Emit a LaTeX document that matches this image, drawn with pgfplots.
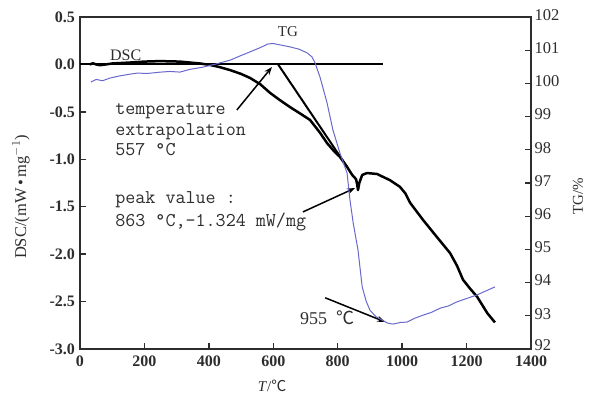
\documentclass[border=0pt]{standalone}
\usepackage{fontspec}
\setmainfont{Liberation Serif}
\newfontfamily\cjk{Noto Sans CJK SC}
\usepackage{pgfplots}
\pgfplotsset{compat=1.18}
\usetikzlibrary{arrows.meta}
\definecolor{tgblue}{RGB}{105,105,205}
\definecolor{axgray}{RGB}{45,45,45}
\begin{document}
\begin{tikzpicture}
\useasboundingbox (-80bp,-46bp) rectangle (512bp,349bp);
\pgfplotsset{
  common/.style={
    at={(0,0)}, anchor=south west,
    scale only axis, width=451bp, height=332bp,
    xmin=0, xmax=1400,
    tick align=inside, major tick length=6bp,
    axis line style={axgray, line width=1.5bp},
    every tick/.style={axgray, line width=1.3bp},
    tick label style={font=\fontsize{16bp}{18bp}\selectfont, text=axgray},
    label style={font=\fontsize{15bp}{17bp}\selectfont, text=axgray},
    /pgf/number format/assume math mode=true,
    clip=false,
  }
}
\begin{axis}[common,
  ymin=-3, ymax=0.5,
  xtick={0,200,400,600,800,1000,1200,1400},
  xticklabels={0,200,400,600,800,1000,1200,1400},
  ytick={-3,-2.5,-2,-1.5,-1,-0.5,0,0.5},
  yticklabels={-3.0,-2.5,-2.0,-1.5,-1.0,-0.5,0.0,0.5},
  xtick pos=bottom, ytick pos=left,
  xticklabel style={font=\bfseries\fontsize{16bp}{18bp}\selectfont, yshift=-3.5bp},
  yticklabel style={font=\bfseries\fontsize{16bp}{18bp}\selectfont, xshift=-1.5bp},
  xlabel={\textit{T}/{\cjk ℃}},
  xlabel style={at={(axis description cs:0.426,-0.111)}, anchor=center},
  ylabel={DSC/(mW\,•\,mg$^{-1}$)},
  ylabel style={at={(axis description cs:-0.131,0.458)}, anchor=center, rotate=0, font=\fontsize{16.5bp}{18bp}\selectfont},
]
% DSC curve
\addplot[black, line width=2.5bp, line join=round] coordinates {
(30,0.0)(40,0.012)(50,0.0)(62,-0.008)(80,0.0)(100,0.01)(155,0.02)(200,0.03)
(248,0.035)(310,0.03)(373,0.01)(404,-0.006)(430,-0.025)(466,-0.06)(500,-0.1)
(528,-0.143)(560,-0.21)(590,-0.30)(620,-0.375)(652,-0.45)(680,-0.51)(714,-0.585)
(745,-0.72)(767,-0.83)(790,-0.92)(807,-0.975)(829,-1.08)(845,-1.165)(857,-1.21)
(860,-1.26)(863,-1.324)(867,-1.25)(876,-1.165)(891,-1.145)(922,-1.155)(962,-1.22)
(993,-1.29)(1010,-1.36)(1025,-1.46)(1065,-1.64)(1108,-1.82)(1149,-1.99)(1170,-2.12)
(1189,-2.27)(1210,-2.36)(1233,-2.45)(1264,-2.62)(1288,-2.72)
};
% baseline and tangent
\addplot[black, line width=2bp] coordinates {(0,0)(941,0)};
\addplot[black, line width=2bp] coordinates {(615,0)(829,-1.08)};
% annotations
\draw[-{Stealth[length=8bp,width=6bp]}, line width=1.5bp] (axis cs:487,-0.48) -- (axis cs:596,-0.027);
\draw[-{Stealth[length=8bp,width=6bp]}, line width=1.5bp] (axis cs:692,-1.555) -- (axis cs:854,-1.303);
\draw[-{Stealth[length=8bp,width=6bp]}, line width=1.5bp] (axis cs:761,-2.46) -- (axis cs:947,-2.714);
\node[anchor=base west, inner sep=0, font=\fontsize{16bp}{18bp}\selectfont, text=axgray] at (axis cs:93,0.046) {DSC};
\node[anchor=base west, inner sep=0, font=\fontsize{15bp}{17bp}\selectfont, text=axgray] at (axis cs:614,0.29) {TG};
\begin{scope}[every node/.style={anchor=base west, inner sep=0, font=\ttfamily\fontsize{19.5bp}{21bp}\selectfont, text=axgray}]
\node at (axis cs:109,-0.533) {temperature};
\node at (axis cs:109,-0.744) {extrapolation};
\node at (axis cs:109,-0.955) {557 °C};
\node at (axis cs:109,-1.47) {peak value :};
\node at (axis cs:109,-1.713) {863 °C,-1.324 mW/mg};
\end{scope}
\node[anchor=base west, inner sep=0, font=\fontsize{18bp}{20bp}\selectfont, text=axgray] at (axis cs:683,-2.746) {955\hspace{9bp}{\cjk ℃}};
\end{axis}
\begin{axis}[common,
  ymin=92, ymax=102,
  axis x line=none,
  axis y line*=right,
  ytick={92,93,94,95,96,97,98,99,100,101,102},
  yticklabels={{\raisebox{3bp}{92}},93,94,95,96,97,98,99,100,101,102},
  yticklabel style={font=\fontsize{16.5bp}{18bp}\selectfont, yshift=2bp},
  ylabel={TG/\%},
  ylabel style={at={(axis description cs:1.104,0.46)}, anchor=center, rotate=0},
]
\addplot[tgblue, line width=1bp, line join=round] coordinates {
(34,100.04)(50,100.12)(70,100.08)(93,100.16)(120,100.22)(150,100.27)(177,100.31)
(210,100.30)(250,100.34)(280,100.36)(310,100.34)(340,100.42)(382,100.49)
(420,100.58)(466,100.70)(500,100.84)(528,100.95)(560,101.08)(584,101.19)
(600,101.20)(621,101.16)(652,101.10)(680,101.03)(705,100.92)(720,100.80)(730,100.61)
(745,100.19)(767,99.41)(785,98.60)(807,97.90)(829,97.30)(838,96.49)(848,95.80)
(863,94.98)(876,93.87)(888,93.45)(900,93.17)(918,92.98)(938,92.87)(955,92.78)(972,92.75)
(995,92.80)(1015,92.81)(1040,92.93)(1065,93.02)(1090,93.10)(1118,93.23)(1145,93.30)
(1170,93.42)(1200,93.52)(1233,93.63)(1260,93.75)(1288,93.87)
};
\end{axis}
\end{tikzpicture}
\end{document}
